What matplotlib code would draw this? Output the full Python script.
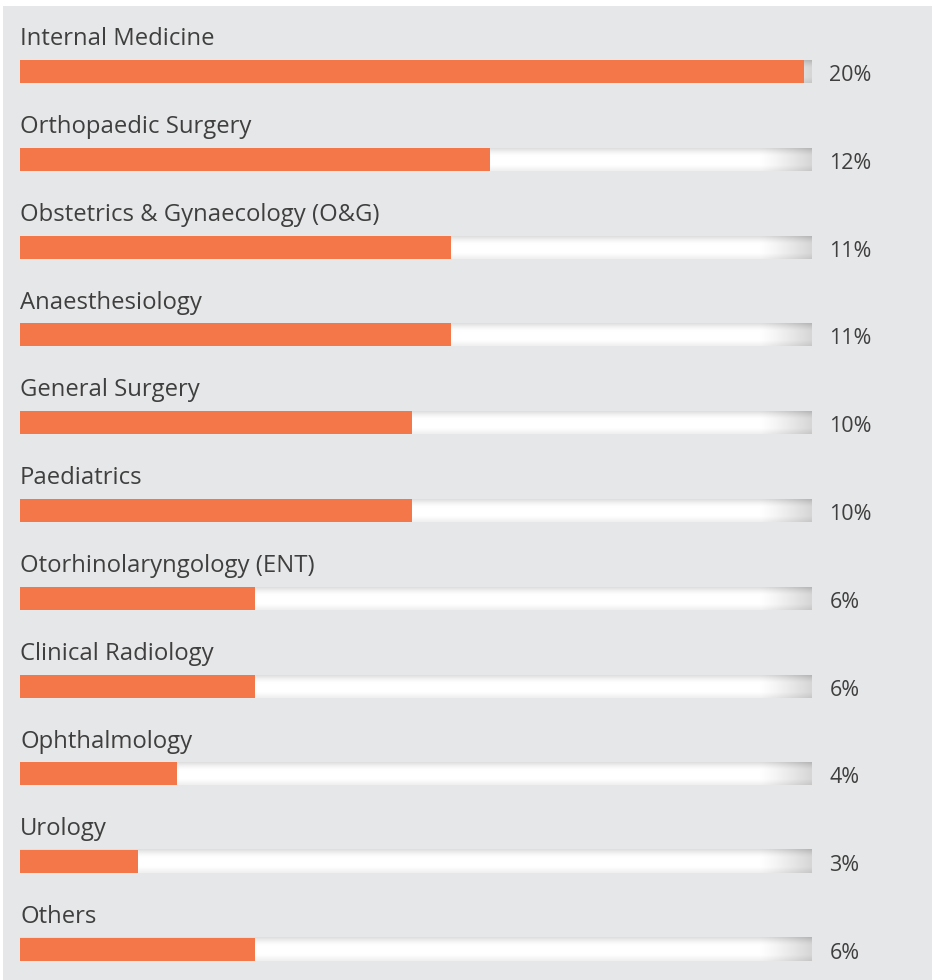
import numpy as np
import matplotlib.pyplot as plt
from matplotlib.patches import Rectangle

categories = [
    "Internal Medicine",
    "Orthopaedic Surgery",
    "Obstetrics & Gynaecology (O&G)",
    "Anaesthesiology",
    "General Surgery",
    "Paediatrics",
    "Otorhinolaryngology (ENT)",
    "Clinical Radiology",
    "Ophthalmology",
    "Urology",
    "Others",
]
values = [20, 12, 11, 11, 10, 10, 6, 6, 4, 3, 6]
value_labels = ["20%", "12%", "11%", "11%", "10%", "10%", "6%", "6%", "4%", "3%", "6%"]

plt.rcParams['font.family'] = ['Open Sans', 'DejaVu Sans']

W, H = 933, 980
fig = plt.figure(figsize=(W / 100, H / 100), dpi=100)
fig.patch.set_facecolor('white')

# grey panel
bg = fig.add_axes([0, 0, 1, 1])
bg.set_xlim(0, W)
bg.set_ylim(H, 0)
bg.axis('off')
bg.add_patch(Rectangle((3, 6), W - 4, H - 6, color='#e6e7e8', lw=0))

# chart axes: x in percent, y in rows
px_per_pct = 39.2
row_h = 87.8
first_center = 71.5
ax = fig.add_axes([0, 0, 1, 1])
ax.patch.set_alpha(0)
ax.axis('off')

bar_h = 23 / row_h
track_end = 20.2
orange = '#f4774a'
text_col = '#3f3f3f'

# track shading image (cylinder-like with darker right end)
ny, nx = 40, 400
t = np.linspace(0, 1, ny)[:, None]
vert = 1 - 0.13 * np.clip(1 - t / 0.35, 0, 1) ** 1.5 - 0.06 * np.clip((t - 0.75) / 0.25, 0, 1)
s = np.linspace(0, 1, nx)[None, :]
horiz = 0.16 * np.clip((s - 0.935) / 0.065, 0, 1) ** 1.2
shade = np.clip(vert - horiz, 0, 1)
track_img = np.dstack([shade, shade, shade])

for i, (cat, v, lab) in enumerate(zip(categories, values, value_labels)):
    ax.imshow(track_img, extent=(0, track_end, i + bar_h / 2, i - bar_h / 2),
              aspect='auto', interpolation='bilinear', zorder=1)
    ax.barh(i, v, height=bar_h, left=0, color=orange, zorder=2)
    ax.text(0.0, i - 0.367, cat, fontsize=17.2, color=text_col, va='center', ha='left')
    ax.text(20.65, i + 0.045, lab, fontsize=15.5, color=text_col, va='center', ha='left')

ax.set_xlim(-20 / px_per_pct, (W - 20) / px_per_pct)
ax.set_ylim((H - first_center) / row_h, -first_center / row_h)

fig.savefig('out.png', dpi=100)
